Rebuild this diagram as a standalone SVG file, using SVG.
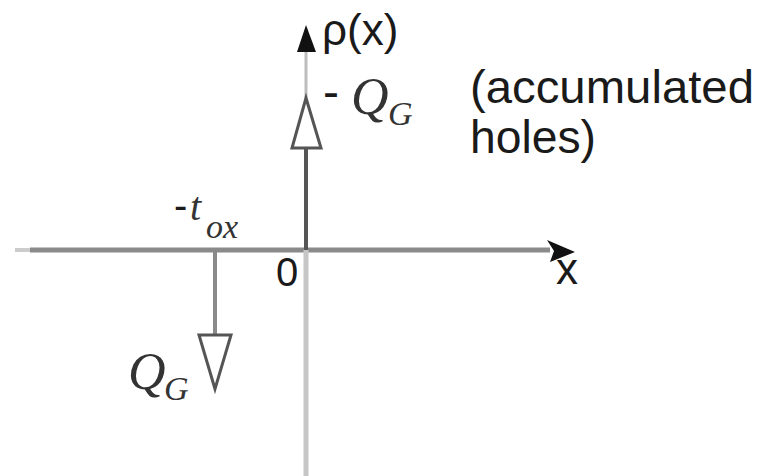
<svg xmlns="http://www.w3.org/2000/svg" width="759" height="476" viewBox="0 0 759 476">
<style>
.sans{font-family:"Liberation Sans",Arial,sans-serif;fill:#1a1a1a}
.ital{font-family:"Liberation Serif","Times New Roman",serif;font-style:italic;fill:#333}
.open{fill:#fff;stroke:#555;stroke-width:3;stroke-linejoin:miter}
</style>
<rect width="759" height="476" fill="#fff"/>
<g id="connectors" fill="none">
  <line x1="15" y1="250" x2="30" y2="250" stroke="#ccc" stroke-width="4"/>
  <line x1="30" y1="250" x2="550" y2="250" stroke="#8a8a8a" stroke-width="5"/>
  <line x1="306" y1="50" x2="306" y2="98" stroke="#bdbdbd" stroke-width="3"/>
  <line x1="306" y1="148" x2="306" y2="250" stroke="#555" stroke-width="4"/>
  <line x1="306" y1="250" x2="306" y2="476" stroke="#c6c6c6" stroke-width="5"/>
  <line x1="215" y1="250" x2="215" y2="335" stroke="#8a8a8a" stroke-width="4"/>
  <polygon points="306,25 297,52 316,52" fill="#111" stroke="none"/>
  <polygon points="575,252 547,240 554,251 550,262" fill="#111" stroke="none"/>
</g>
<g id="node-up-arrow">
  <polygon class="open" points="306,98 292,148 321,148"/>
</g>
<g id="node-down-arrow">
  <polygon class="open" points="199,335 231,335 215,389"/>
</g>
<g id="label-rho">
  <text class="sans" x="322" y="45" font-size="44">ρ(x)</text>
</g>
<g id="label-minus-QG">
  <text class="sans" x="323" y="108" font-size="48">-</text>
  <text class="ital" x="351" y="114" font-size="52">Q</text>
  <text class="ital" x="388" y="125" font-size="34">G</text>
</g>
<g id="label-holes">
  <text class="sans" x="470" y="103" font-size="46" textLength="284" lengthAdjust="spacingAndGlyphs">(accumulated</text>
  <text class="sans" x="470" y="153" font-size="46" textLength="126" lengthAdjust="spacingAndGlyphs">holes)</text>
</g>
<g id="label-tox">
  <text class="sans" x="174" y="219" font-size="40">-</text>
  <text class="ital" x="190" y="220" font-size="40">t</text>
  <text class="ital" x="206" y="238" font-size="34">ox</text>
</g>
<g id="label-zero">
  <text class="sans" x="276" y="286" font-size="40">0</text>
</g>
<g id="label-x">
  <text class="sans" x="556" y="284" font-size="44">x</text>
</g>
<g id="label-QG">
  <text class="ital" x="128" y="389" font-size="52">Q</text>
  <text class="ital" x="164" y="400" font-size="34">G</text>
</g>
</svg>
